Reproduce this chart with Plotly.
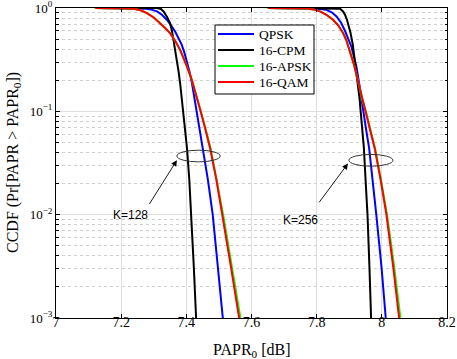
import plotly.graph_objects as go

# ---------------- data ----------------
series_names = ["QPSK", "16-CPM", "16-APSK", "16-QAM"]
series_colors = ["#0000ff", "#000000", "#00ff00", "#ff0000"]

# K = 128
qpsk_128_x = [7.121, 7.24, 7.279, 7.295, 7.310, 7.325, 7.340, 7.353, 7.366, 7.376, 7.386, 7.394,
              7.402, 7.410, 7.417, 7.424, 7.431, 7.441, 7.452, 7.466, 7.481, 7.497, 7.512]
qpsk_128_y = [1.0, 0.998, 0.984, 0.96, 0.927, 0.86, 0.77, 0.68, 0.59, 0.51, 0.44, 0.37,
              0.30, 0.24, 0.19, 0.14, 0.10, 0.068, 0.044, 0.022, 0.01, 0.0031, 0.001]

cpm_128_x = [7.121, 7.310, 7.322, 7.330, 7.340, 7.350, 7.356, 7.361, 7.366, 7.371, 7.376, 7.381,
             7.386, 7.391, 7.402, 7.409, 7.415, 7.423, 7.430]
cpm_128_y = [1.0, 1.0, 0.98, 0.927, 0.83, 0.715, 0.60, 0.49, 0.40, 0.315, 0.245, 0.187,
             0.135, 0.10, 0.044, 0.022, 0.01, 0.0031, 0.001]

apsk_128_x = [7.118, 7.20, 7.238, 7.260, 7.279, 7.300, 7.320, 7.335, 7.350, 7.366, 7.381, 7.392,
              7.402, 7.417, 7.432, 7.445, 7.459, 7.474, 7.493, 7.513, 7.540, 7.566]
apsk_128_y = [1.0, 0.998, 0.984, 0.95, 0.894, 0.81, 0.715, 0.64, 0.572, 0.48, 0.394, 0.33,
              0.271, 0.201, 0.139, 0.10, 0.068, 0.044, 0.022, 0.01, 0.0031, 0.001]

qam_128_x = [7.121, 7.20, 7.238, 7.260, 7.279, 7.300, 7.320, 7.335, 7.350, 7.366, 7.381, 7.392,
             7.402, 7.417, 7.432, 7.444, 7.458, 7.473, 7.492, 7.511, 7.537, 7.562]
qam_128_y = [1.0, 0.998, 0.984, 0.95, 0.894, 0.81, 0.715, 0.64, 0.572, 0.48, 0.394, 0.33,
             0.271, 0.201, 0.139, 0.10, 0.068, 0.044, 0.022, 0.01, 0.0031, 0.001]

# K = 256
qpsk_256_x = [7.651, 7.760, 7.800, 7.830, 7.846, 7.861, 7.875, 7.886, 7.897, 7.907, 7.915, 7.922,
              7.932, 7.939, 7.943, 7.952, 7.961, 7.972, 7.983, 7.999, 8.012]
qpsk_256_y = [1.0, 0.998, 0.99, 0.96, 0.91, 0.83, 0.72, 0.61, 0.50, 0.42, 0.33, 0.27,
              0.173, 0.12, 0.10, 0.066, 0.044, 0.022, 0.01, 0.0031, 0.001]

cpm_256_x = [7.651, 7.861, 7.872, 7.881, 7.887, 7.893, 7.899, 7.904, 7.911, 7.917, 7.922, 7.927,
             7.932, 7.935, 7.945, 7.950, 7.956, 7.962, 7.967]
cpm_256_y = [1.0, 1.0, 0.985, 0.927, 0.86, 0.77, 0.66, 0.572, 0.44, 0.315, 0.24, 0.187,
             0.13, 0.10, 0.044, 0.022, 0.01, 0.0031, 0.001]

apsk_256_x = [7.648, 7.740, 7.769, 7.790, 7.810, 7.830, 7.850, 7.866, 7.881, 7.891, 7.900, 7.915,
              7.928, 7.940, 7.951, 7.965, 7.979, 7.997, 8.016, 8.038, 8.057]
apsk_256_y = [1.0, 0.997, 0.99, 0.97, 0.927, 0.86, 0.77, 0.68, 0.572, 0.49, 0.40, 0.28,
              0.19, 0.13, 0.10, 0.066, 0.044, 0.022, 0.01, 0.0031, 0.001]

qam_256_x = [7.651, 7.740, 7.769, 7.790, 7.810, 7.830, 7.850, 7.866, 7.881, 7.891, 7.900, 7.915,
             7.928, 7.940, 7.950, 7.964, 7.978, 7.996, 8.014, 8.035, 8.053]
qam_256_y = [1.0, 0.997, 0.99, 0.97, 0.927, 0.86, 0.77, 0.68, 0.572, 0.49, 0.40, 0.28,
             0.19, 0.13, 0.10, 0.066, 0.044, 0.022, 0.01, 0.0031, 0.001]

x_tick_vals = [7, 7.2, 7.4, 7.6, 7.8, 8, 8.2]
y_tick_vals = [1e-3, 1e-2, 1e-1, 1]
y_tick_text = ["10<sup>−3</sup>", "10<sup>−2</sup>", "10<sup>−1</sup>", "10<sup>0</sup>"]
y_minor_vals = [m * d for d in [1e-3, 1e-2, 1e-1] for m in range(2, 10)]

k_labels = ["K=128", "K=256"]
x_title = "PAPR<sub>0</sub> [dB]"
y_title = "CCDF (Pr[PAPR > PAPR<sub>0</sub>])"

SERIF = "Liberation Serif"
SANS = "Liberation Sans"

W, H = 457, 359
ML, MR, MT, MB = 56, 10, 8, 41
PW, PH = W - ML - MR, H - MT - MB


def px_to_paper(px, py):
    return (px - ML) / PW, (H - MB - py) / PH


fig = go.Figure()

curves = [
    (qpsk_128_x, qpsk_128_y, qpsk_256_x, qpsk_256_y),
    (cpm_128_x, cpm_128_y, cpm_256_x, cpm_256_y),
    (apsk_128_x, apsk_128_y, apsk_256_x, apsk_256_y),
    (qam_128_x, qam_128_y, qam_256_x, qam_256_y),
]

for name, color, (x1, y1, x2, y2) in zip(series_names, series_colors, curves):
    fig.add_trace(go.Scatter(
        x=list(x1) + [None] + list(x2),
        y=list(y1) + [None] + list(y2),
        mode="lines", name=name,
        line=dict(color=color, width=2),
        connectgaps=False, showlegend=False,
    ))

# ellipses (shape coordinates are data values on the log axis)
fig.add_shape(type="circle", xref="x", yref="y",
              x0=7.371, x1=7.504, y0=10 ** -1.489, y1=10 ** -1.376,
              line=dict(color="#333333", width=1))
fig.add_shape(type="circle", xref="x", yref="y",
              x0=7.899, x1=8.034, y0=10 ** -1.531, y1=10 ** -1.417,
              line=dict(color="#333333", width=1))

# arrows (annotation coordinates are log10 on the log axis)
fig.add_annotation(x=7.371, y=-1.473, ax=7.284, ay=-1.910, axref="x", ayref="y",
                   xref="x", yref="y", text="", showarrow=True,
                   arrowhead=2, arrowsize=1.3, arrowwidth=0.9, arrowcolor="black", standoff=0)
fig.add_annotation(x=7.896, y=-1.505, ax=7.804, ay=-1.896, axref="x", ayref="y",
                   xref="x", yref="y", text="", showarrow=True,
                   arrowhead=2, arrowsize=1.3, arrowwidth=0.9, arrowcolor="black", standoff=0)
fig.add_annotation(x=7.228, y=-2.0, xref="x", yref="y", text=k_labels[0], showarrow=False,
                   font=dict(family=SANS, size=12, color="black"))
fig.add_annotation(x=7.751, y=-2.049, xref="x", yref="y", text=k_labels[1], showarrow=False,
                   font=dict(family=SANS, size=12, color="black"))

# legend drawn by hand (box 215..314 x 25..94 px)
bx0, by0 = px_to_paper(215, 94)
bx1, by1 = px_to_paper(314, 25)
fig.add_shape(type="rect", xref="paper", yref="paper", x0=bx0, y0=by0, x1=bx1, y1=by1,
              fillcolor="white", line=dict(color="black", width=1), layer="above")
for i, (name, color) in enumerate(zip(series_names, series_colors)):
    py = 34 + 16 * i
    lx0, ly = px_to_paper(218, py)
    lx1, _ = px_to_paper(254, py)
    tx, _ = px_to_paper(257, py)
    fig.add_shape(type="line", xref="paper", yref="paper", x0=lx0, x1=lx1, y0=ly, y1=ly,
                  line=dict(color=color, width=2), layer="above")
    fig.add_annotation(x=tx, y=ly, xref="paper", yref="paper", text=name, showarrow=False,
                       xanchor="left", yanchor="middle",
                       font=dict(family=SERIF, size=13.5, color="black"))

# axis titles as positioned text
tx, ty = px_to_paper(251, 350)
fig.add_annotation(x=tx, y=ty, xref="paper", yref="paper", text=x_title, showarrow=False,
                   xanchor="center", yanchor="middle",
                   font=dict(family=SERIF, size=16, color="black"))
tx, ty = px_to_paper(13, 163)
fig.add_annotation(x=tx, y=ty, xref="paper", yref="paper", text=y_title, showarrow=False,
                   textangle=-90, xanchor="center", yanchor="middle",
                   font=dict(family=SERIF, size=16, color="black"))

fig.update_layout(
    width=W, height=H,
    margin=dict(l=ML, r=MR, t=MT, b=MB, autoexpand=False),
    paper_bgcolor="white", plot_bgcolor="white",
    font=dict(family=SERIF, color="black"),
    showlegend=False,
    xaxis=dict(
        range=[7, 8.2], tickvals=x_tick_vals, ticktext=[f"{v:g}" for v in x_tick_vals],
        showgrid=True, gridcolor="#dedede", gridwidth=1, zeroline=False,
        ticks="inside", ticklen=4, tickcolor="black",
        showline=True, linecolor="black", linewidth=1, mirror="ticks",
        tickfont=dict(family=SERIF, size=14, color="black"),
        ticklabelstandoff=-9, ticklabeloverflow="allow",
        automargin=False,
    ),
    yaxis=dict(
        type="log", range=[-3.0002, 0.0002], tickvals=y_tick_vals, ticktext=y_tick_text,
        showgrid=True, gridcolor="#dedede", gridwidth=1, zeroline=False,
        ticks="inside", ticklen=4, tickcolor="black",
        showline=True, linecolor="black", linewidth=1, mirror="ticks",
        tickfont=dict(family=SERIF, size=13, color="black"),
        ticklabeloverflow="allow",
        automargin=False,
        minor=dict(tickvals=y_minor_vals, ticks="inside", ticklen=2.5, tickcolor="black",
                   showgrid=True, gridcolor="#cfcfcf", griddash="dot", gridwidth=1),
    ),
)

fig.write_html("out.html", config={"displayModeBar": False},
               post_script="document.body.style.margin='0px';")
